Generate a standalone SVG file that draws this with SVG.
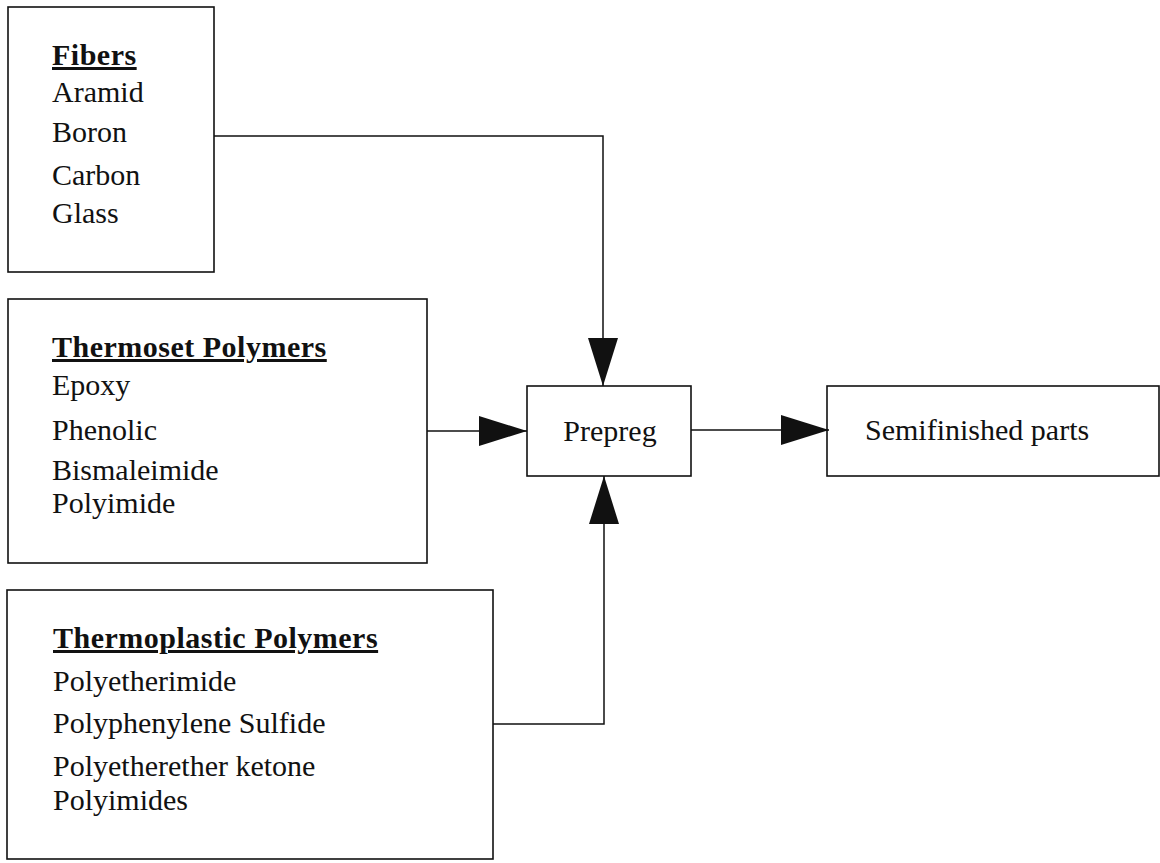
<svg xmlns="http://www.w3.org/2000/svg" width="1160" height="863" viewBox="0 0 1160 863">
<style>
  .box { fill: #ffffff; stroke: #111111; stroke-width: 1.6; }
  .t { font-family: "Liberation Serif", "Times New Roman", serif; font-size: 30px; fill: #111111; }
  .h { font-weight: bold; text-decoration: underline; letter-spacing: 0.5px; }
  .conn { fill: none; stroke: #111111; stroke-width: 1.5; }
</style>
<defs>
  <marker id="arr" markerUnits="userSpaceOnUse" viewBox="0 0 48 30" markerWidth="48" markerHeight="30" refX="48" refY="15" orient="auto">
    <path d="M0,0 L48,15 L0,30 Z" fill="#111111"/>
  </marker>
</defs>
<rect width="1160" height="863" fill="#ffffff"/>

<g id="fibers">
  <rect class="box" x="8" y="7" width="206" height="265"/>
  <text class="t h" x="52" y="65">Fibers</text>
  <text class="t" x="52" y="102">Aramid</text>
  <text class="t" x="52" y="142">Boron</text>
  <text class="t" x="52" y="185">Carbon</text>
  <text class="t" x="52" y="223">Glass</text>
</g>

<g id="thermoset">
  <rect class="box" x="8" y="299" width="419" height="264"/>
  <text class="t h" x="52" y="357">Thermoset Polymers</text>
  <text class="t" x="52" y="395">Epoxy</text>
  <text class="t" x="52" y="440">Phenolic</text>
  <text class="t" x="52" y="480">Bismaleimide</text>
  <text class="t" x="52" y="513">Polyimide</text>
</g>

<g id="thermoplastic">
  <rect class="box" x="7" y="590" width="486" height="269"/>
  <text class="t h" x="53" y="648">Thermoplastic Polymers</text>
  <text class="t" x="53" y="691">Polyetherimide</text>
  <text class="t" x="53" y="733">Polyphenylene Sulfide</text>
  <text class="t" x="53" y="776">Polyetherether ketone</text>
  <text class="t" x="53" y="810">Polyimides</text>
</g>

<g id="prepreg">
  <rect class="box" x="527" y="386" width="164" height="90"/>
  <text class="t" x="610" y="441" text-anchor="middle">Prepreg</text>
</g>

<g id="semifinished">
  <rect class="box" x="827" y="386" width="332" height="90"/>
  <text class="t" x="865" y="440">Semifinished parts</text>
</g>

<g id="connectors">
  <path class="conn" d="M214,136 H603 V386" marker-end="url(#arr)"/>
  <path class="conn" d="M427,431 H527" marker-end="url(#arr)"/>
  <path class="conn" d="M493,724 H604 V476" marker-end="url(#arr)"/>
  <path class="conn" d="M691,430 H829" marker-end="url(#arr)"/>
</g>
</svg>
